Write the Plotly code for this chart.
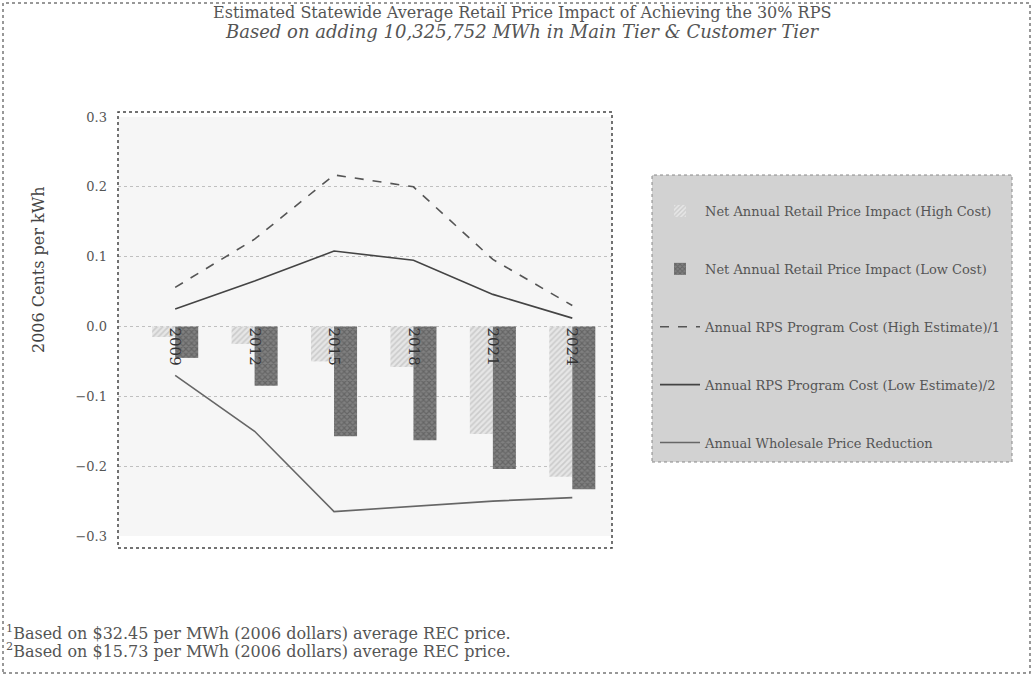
import plotly.graph_objects as go

years = ["2009", "2012", "2015", "2018", "2021", "2024"]
net_high_cost = [-0.015, -0.025, -0.05, -0.058, -0.154, -0.215]
net_low_cost = [-0.045, -0.085, -0.157, -0.163, -0.204, -0.233]
rps_cost_high = [0.056, 0.125, 0.217, 0.20, 0.096, 0.03]
rps_cost_low = [0.025, 0.065, 0.108, 0.095, 0.046, 0.012]
wholesale_reduction = [-0.07, -0.15, -0.265, -0.258, -0.25, -0.245]

title_lines = [
    "Estimated Statewide Average Retail Price Impact of Achieving the 30% RPS",
    "<i>Based on adding 10,325,752 MWh in Main Tier & Customer Tier</i>",
]
footnotes = [
    "<sup>1</sup>Based on $32.45 per MWh (2006 dollars) average REC price.",
    "<sup>2</sup>Based on $15.73 per MWh (2006 dollars) average REC price.",
]

W_PX, H_PX = 1034, 677
L, R, T, B = 118, 612, 117, 536


def px_x(p):
    return (p - L) / (R - L)


def px_y(p):
    return (B - p) / (B - T)


FONT = "DejaVu Serif"
GREY = "#555555"

fig = go.Figure()

fig.add_trace(go.Bar(
    x=years, y=net_high_cost, name="Net Annual Retail Price Impact (High Cost)",
    marker=dict(color="#e6e6e6", line=dict(width=0),
                pattern=dict(shape="/", fgcolor="#b0b0b0", size=4, solidity=0.4)),
))
fig.add_trace(go.Bar(
    x=years, y=net_low_cost, name="Net Annual Retail Price Impact (Low Cost)",
    marker=dict(color="#808080", line=dict(width=0),
                pattern=dict(shape="x", fgcolor="#4a4a4a", size=4, solidity=0.5)),
))
fig.add_trace(go.Scatter(
    x=years, y=rps_cost_high, mode="lines",
    name="Annual RPS Program Cost (High Estimate)/1",
    line=dict(color="#555555", width=1.6, dash="dash"),
))
fig.add_trace(go.Scatter(
    x=years, y=rps_cost_low, mode="lines",
    name="Annual RPS Program Cost (Low Estimate)/2",
    line=dict(color="#444444", width=1.6),
))
fig.add_trace(go.Scatter(
    x=years, y=wholesale_reduction, mode="lines",
    name="Annual Wholesale Price Reduction",
    line=dict(color="#666666", width=1.6),
))

for i, tr in enumerate(fig.data):
    tr.legendgroup = "g%d" % i

# legend box, plot frame, outer border
fig.add_shape(type="rect", xref="paper", yref="paper",
              x0=px_x(652), x1=px_x(1012), y0=px_y(462), y1=px_y(175),
              fillcolor="#d2d2d2", line=dict(color="#888888", width=1, dash="dot"),
              layer="below")
fig.add_shape(type="rect", xref="paper", yref="paper",
              x0=0, x1=1, y0=px_y(548), y1=px_y(112),
              line=dict(color="#444444", width=1.5, dash="dot"))
fig.add_shape(type="rect", xref="paper", yref="paper",
              x0=px_x(3), x1=px_x(1030), y0=px_y(673), y1=px_y(3),
              line=dict(color="#777777", width=1.5, dash="dot"))

for k, (txt, size) in enumerate(zip(title_lines, [16, 18])):
    fig.add_annotation(text=txt, xref="paper", yref="paper",
                       x=px_x(522), y=px_y(12 + 20 * k), xanchor="center", yanchor="middle",
                       showarrow=False, font=dict(family=FONT, size=size, color=GREY))

fig.add_annotation(text="2006 Cents per kWh", textangle=-90, xref="paper", yref="paper",
                   x=px_x(38), y=px_y(270), xanchor="center", yanchor="middle",
                   showarrow=False, font=dict(family=FONT, size=16, color="#444444"))

for k, txt in enumerate(footnotes):
    fig.add_annotation(text=txt, xref="paper", yref="paper",
                       x=px_x(4), y=px_y(632 + 18 * k), xanchor="left", yanchor="middle",
                       showarrow=False, font=dict(family=FONT, size=16, color=GREY))

fig.update_layout(
    width=W_PX, height=H_PX,
    margin=dict(l=L, r=W_PX - R, t=T, b=H_PX - B),
    paper_bgcolor="white", plot_bgcolor="#f6f6f6",
    font=dict(family=FONT, color=GREY),
    barmode="group", bargap=0.42, bargroupgap=0,
    showlegend=True,
    legend=dict(x=px_x(655), y=px_y(196), xanchor="left", yanchor="top",
                bgcolor="rgba(0,0,0,0)", traceorder="grouped",
                tracegroupgap=38, itemwidth=40,
                font=dict(family=FONT, size=13, color=GREY)),
    xaxis=dict(anchor="free", position=0.5, showline=False, ticks="",
               range=[-0.72, 5.5],
               tickangle=90, showgrid=False,
               tickfont=dict(family=FONT, size=15, color="#333333")),
    yaxis=dict(range=[-0.3, 0.3], dtick=0.1, tickformat=".1f",
               showgrid=True, gridcolor="#c0c0c0", griddash="dot",
               zeroline=False, showline=False, ticks="",
               ticklabelstandoff=10,
               tickfont=dict(family=FONT, size=13, color=GREY)),
)

fig.write_html("out.html", config={"displayModeBar": False},
               post_script="document.body.style.margin='0px';")
